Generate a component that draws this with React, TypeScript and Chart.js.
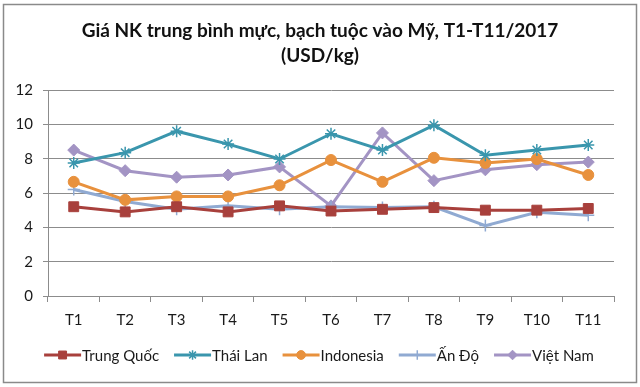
import React, { useEffect, useRef } from "react";
import { Chart, registerables } from "chart.js";
import { drawPoint } from "chart.js/helpers";

Chart.register(...registerables);

const categories = ["T1", "T2", "T3", "T4", "T5", "T6", "T7", "T8", "T9", "T10", "T11"];
const trungQuoc = [5.2, 4.9, 5.2, 4.9, 5.25, 4.95, 5.05, 5.15, 5.0, 5.0, 5.1];
const thaiLan = [7.75, 8.35, 9.6, 8.85, 7.98, 9.45, 8.5, 9.95, 8.2, 8.5, 8.8];
const indonesia = [6.65, 5.6, 5.8, 5.8, 6.45, 7.92, 6.65, 8.05, 7.75, 7.98, 7.05];
const anDo = [6.2, 5.5, 5.05, 5.25, 5.05, 5.2, 5.15, 5.2, 4.1, 4.88, 4.7];
const vietNam = [8.5, 7.3, 6.92, 7.05, 7.52, 5.25, 9.5, 6.72, 7.35, 7.65, 7.8];
const titleLines = ["Giá NK trung bình mực, bạch tuộc vào Mỹ, T1-T11/2017", "(USD/kg)"];

const FONT = "Lato, 'Open Sans', sans-serif";

const framePlugin = {
  id: "frame",
  beforeDraw(chart: any) {
    const ctx = chart.ctx;
    ctx.save();
    ctx.fillStyle = "#ffffff";
    ctx.fillRect(0, 0, chart.width, chart.height);
    ctx.strokeStyle = "#8a8a8a";
    ctx.lineWidth = 1.5;
    ctx.strokeRect(3.5, 4.5, chart.width - 7, chart.height - 9);
    ctx.restore();
  },
  afterDraw(chart: any) {
    const ctx = chart.ctx;
    ctx.save();
    // title
    ctx.fillStyle = "#111111";
    ctx.font = `bold 19px ${FONT}`;
    ctx.textAlign = "center";
    ctx.textBaseline = "middle";
    ctx.fillText(titleLines[0], 320, 31);
    ctx.fillText(titleLines[1], 320, 56);
    // legend
    ctx.font = `15px ${FONT}`;
    ctx.textAlign = "left";
    const lineLen = 37;
    const textGap = 1;
    const itemGap = 15;
    const ds = chart.data.datasets;
    const widths = ds.map((d: any) => lineLen + textGap + ctx.measureText(d.label).width);
    const total = widths.reduce((a: number, b: number) => a + b, 0) + itemGap * (ds.length - 1);
    let x = 319 - total / 2;
    const y = 355;
    ds.forEach((d: any, i: number) => {
      ctx.strokeStyle = d.borderColor;
      ctx.lineWidth = 3;
      ctx.beginPath();
      ctx.moveTo(x, y);
      ctx.lineTo(x + lineLen, y);
      ctx.stroke();
      ctx.fillStyle = d.pointBackgroundColor;
      ctx.strokeStyle = d.pointBorderColor;
      ctx.lineWidth = d.pointBorderWidth;
      drawPoint(ctx, { pointStyle: d.pointStyle, radius: d.pointRadius * 0.8, rotation: 0, borderWidth: d.pointBorderWidth }, x + lineLen / 2, y);
      ctx.fillStyle = "#1a1a1a";
      ctx.fillText(d.label, x + lineLen + textGap, y + 1);
      x += widths[i] + itemGap;
    });
    ctx.restore();
  },
};

function mk(label: string, data: number[], color: string, style: string, radius: number, bw: number) {
  return {
    label,
    data,
    borderColor: color,
    backgroundColor: color,
    pointBackgroundColor: color,
    pointBorderColor: color,
    pointBorderWidth: bw,
    pointStyle: style,
    pointRadius: radius,
    borderWidth: 3,
    tension: 0,
  };
}

export default function App() {
  const ref = useRef<HTMLCanvasElement>(null);
  useEffect(() => {
    if (!ref.current) return;
    const grid = "#8c8c8c";
    const chart = new Chart(ref.current, {
      type: "line",
      data: {
        labels: categories,
        datasets: [
          mk("Trung Quốc", trungQuoc, "#a8403c", "rect", 7, 1),
          mk("Thái Lan", thaiLan, "#3a96ad", "star", 6, 1.5),
          mk("Indonesia", indonesia, "#e8913d", "circle", 5.5, 1),
          mk("Ấn Độ", anDo, "#90aad2", "cross", 6, 1.5),
          mk("Việt Nam", vietNam, "#a394c4", "rectRot", 6, 1),
        ] as any,
      },
      options: {
        animation: false,
        responsive: false,
        maintainAspectRatio: false,
        layout: { padding: { left: 0, top: 90, right: 26, bottom: 51 } },
        plugins: {
          legend: { display: false },
          title: { display: false },
          tooltip: { enabled: false },
        },
        scales: {
          x: {
            offset: true,
            grid: { offset: true, drawOnChartArea: false, drawTicks: true, tickLength: 6, color: grid },
            border: { color: grid, width: 1 },
            ticks: { font: { family: FONT, size: 15 }, color: "#1a1a1a", padding: 9, maxRotation: 0 },
            afterFit: (s: any) => { s.height = 40; },
          },
          y: {
            min: 0,
            max: 12,
            ticks: { stepSize: 2, font: { family: FONT, size: 15 }, color: "#1a1a1a", padding: 10 },
            grid: { color: grid, tickLength: 5 },
            border: { color: grid, width: 1 },
            afterFit: (s: any) => { s.width = 48; },
          },
        },
      },
      plugins: [framePlugin],
    });
    return () => chart.destroy();
  }, []);
  return (
    <div style={{ position: "absolute", left: 0, top: 0, width: 640, height: 387 }}>
      <canvas ref={ref} width={640} height={387} style={{ display: "block" }} />
    </div>
  );
}
